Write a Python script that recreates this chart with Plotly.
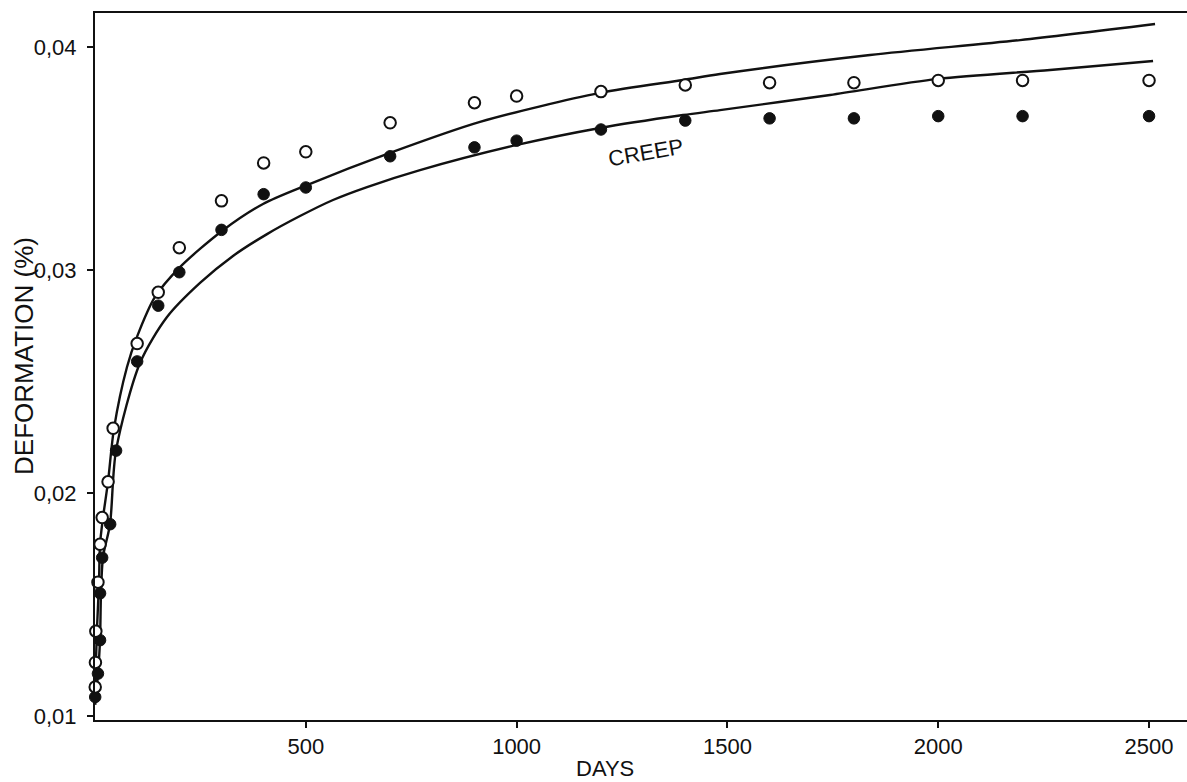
import plotly.graph_objects as go

# Measured points (open circles = upper series, filled circles = lower series)
open_days = [0.5, 1, 2, 7, 12, 17, 31, 43, 100, 150, 200, 300, 400, 500, 700,
             900, 1000, 1200, 1400, 1600, 1800, 2000, 2200, 2500]
open_vals = [0.0113, 0.0124, 0.0138, 0.0160, 0.0177, 0.0189, 0.0205, 0.0229,
             0.0267, 0.0290, 0.0310, 0.0331, 0.0348, 0.0353, 0.0366, 0.0375,
             0.0378, 0.0380, 0.0383, 0.0384, 0.0384, 0.0385, 0.0385, 0.0385]

filled_days = [0.5, 7, 12, 12, 17, 36, 50, 100, 150, 200, 300, 400, 500, 700,
               900, 1000, 1200, 1400, 1600, 1800, 2000, 2200, 2500]
filled_vals = [0.01085, 0.0119, 0.0134, 0.0155, 0.0171, 0.0186, 0.0219, 0.0259,
               0.0284, 0.0299, 0.0318, 0.0334, 0.0337, 0.0351, 0.0355, 0.0358,
               0.0363, 0.0367, 0.0368, 0.0368, 0.0369, 0.0369, 0.0369]

# Fitted curves
upper_days = [0.5, 2.4, 4.7, 9.5, 11.9, 19, 30.8, 45.1, 75.9, 99.6, 142.3, 201.6,
              301.2, 398.5, 502.8, 699.7, 913.2, 1197.8, 1394.7, 1482.4, 1838.2,
              2194.0, 2514.2]
upper_vals = [0.0107, 0.0125, 0.0139, 0.0160, 0.0177, 0.0189, 0.0205, 0.0229,
              0.02565, 0.0270, 0.02879, 0.03013, 0.03175, 0.03296, 0.03381,
              0.03525, 0.03664, 0.03794, 0.03852, 0.03879, 0.03964, 0.04031,
              0.04103]

lower_days = [0.5, 2.4, 7.1, 11.9, 14.2, 19.0, 35.6, 49.8, 106.7, 170.8, 249.1,
              327.3, 408.0, 486.2, 564.5, 645.2, 770.9, 1001.0, 1197.8, 1394.7,
              1482.4, 1743.4, 1999.5, 2265.2, 2509.5]
lower_vals = [0.0105, 0.0109, 0.0119, 0.0134, 0.0155, 0.01713, 0.0186, 0.0219,
              0.02583, 0.02789, 0.02942, 0.03063, 0.03161, 0.03242, 0.03314,
              0.03372, 0.03448, 0.03561, 0.03637, 0.03695, 0.03717, 0.03785,
              0.03857, 0.03897, 0.03937]

x_ticks = [500, 1000, 1500, 2000, 2500]
y_ticks = [0.01, 0.02, 0.03, 0.04]
y_tick_text = ["0,01", "0,02", "0,03", "0,04"]

FONT = "Liberation Sans"
INK = "#111111"

fig = go.Figure()

fig.add_trace(go.Scatter(x=upper_days, y=upper_vals, mode="lines",
                         line=dict(color=INK, width=2.4, shape="spline", smoothing=0.8),
                         hoverinfo="skip", showlegend=False))
fig.add_trace(go.Scatter(x=lower_days, y=lower_vals, mode="lines",
                         line=dict(color=INK, width=2.4, shape="spline", smoothing=0.8),
                         hoverinfo="skip", showlegend=False))
fig.add_trace(go.Scatter(x=filled_days, y=filled_vals, mode="markers",
                         marker=dict(symbol="circle", size=11.5, color=INK,
                                     line=dict(color=INK, width=1)),
                         cliponaxis=False, showlegend=False))
fig.add_trace(go.Scatter(x=open_days, y=open_vals, mode="markers",
                         marker=dict(symbol="circle", size=11.5, color="white",
                                     line=dict(color=INK, width=2)),
                         cliponaxis=False, showlegend=False))

fig.add_annotation(x=1307, y=0.03525, xref="x", yref="y", text="CREEP",
                   showarrow=False, textangle=-10,
                   font=dict(family=FONT, size=22, color=INK))
fig.add_annotation(x=0.467, y=-0.0679, xref="paper", yref="paper", text="DAYS",
                   showarrow=False, xanchor="center", yanchor="middle",
                   font=dict(family=FONT, size=22, color=INK))
fig.add_annotation(x=-0.065, y=0.515, xref="paper", yref="paper",
                   text="DEFORMATION (%)", showarrow=False, textangle=-90,
                   xanchor="center", yanchor="middle",
                   font=dict(family=FONT, size=26, color=INK))

fig.update_layout(
    width=1187, height=782,
    margin=dict(l=95, r=0, t=13, b=62, autoexpand=False),
    paper_bgcolor="white", plot_bgcolor="white",
    font=dict(family=FONT, color=INK),
    xaxis=dict(range=[0, 2590], tickvals=x_ticks, ticks="outside", ticklen=6,
               tickwidth=1.5, tickcolor=INK, showline=True, linecolor=INK,
               linewidth=2, mirror=True, showgrid=False, zeroline=False,
               automargin=False,
               tickfont=dict(family=FONT, size=22, color=INK)),
    yaxis=dict(range=[0.00982, 0.041525], tickvals=y_ticks, ticktext=y_tick_text,
               ticks="outside", ticklen=6, tickwidth=1.5, tickcolor=INK,
               showline=True, linecolor=INK, linewidth=2, showgrid=False,
               zeroline=False, automargin=False, ticklabelstandoff=6,
               tickfont=dict(family=FONT, size=22, color=INK)),
)

fig.write_html(
    "out.html",
    config={"displayModeBar": False},
    post_script="document.body.style.margin='0';document.body.style.overflow='hidden';",
)
